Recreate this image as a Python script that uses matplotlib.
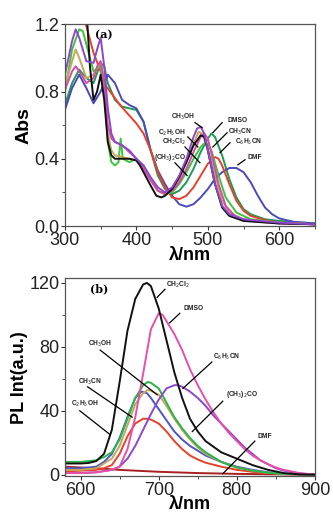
import matplotlib
matplotlib.use("Agg")
import matplotlib.pyplot as plt
from matplotlib.ticker import MultipleLocator

plt.rcParams['font.family'] = ['Liberation Sans', 'DejaVu Sans']

# ---------------- Panel (a): absorption ----------------
abs_black_x = [300, 320, 330, 335, 340, 345, 350, 355, 360, 365, 370, 380, 390, 400, 405, 410, 420, 428, 435, 440, 450, 460, 470, 480, 490, 495, 500, 510, 520, 530, 550, 600, 650]
abs_black_y = [1.5, 1.45, 1.3, 0.95, 0.75, 0.80, 0.90, 0.75, 0.50, 0.42, 0.40, 0.40, 0.40, 0.39, 0.36, 0.32, 0.24, 0.18, 0.17, 0.18, 0.22, 0.29, 0.38, 0.48, 0.54, 0.53, 0.45, 0.25, 0.11, 0.06, 0.03, 0.015, 0.01]

abs_red_x = [300, 320, 328, 340, 358, 377, 400, 410, 420, 430, 440, 450, 460, 470, 480, 490, 500, 510, 515, 520, 530, 540, 550, 560, 580, 600, 650]
abs_red_y = [1.5, 1.35, 1.22, 1.03, 0.83, 0.72, 0.61, 0.55, 0.45, 0.32, 0.23, 0.17, 0.16, 0.18, 0.23, 0.30, 0.37, 0.41, 0.40, 0.36, 0.25, 0.15, 0.09, 0.06, 0.035, 0.02, 0.01]

abs_navy_x = [300, 310, 320, 330, 340, 350, 360, 370, 380, 390, 400, 410, 420, 430, 440, 450, 460, 470, 480, 490, 500, 510, 520, 530, 540, 550, 560, 570, 580, 590, 600, 620, 650]
abs_navy_y = [0.69, 0.82, 0.90, 0.82, 0.73, 0.80, 0.90, 0.85, 0.75, 0.72, 0.70, 0.62, 0.45, 0.33, 0.25, 0.18, 0.13, 0.115, 0.13, 0.17, 0.22, 0.28, 0.32, 0.345, 0.345, 0.32, 0.26, 0.18, 0.11, 0.07, 0.045, 0.025, 0.015]

abs_dgreen_x = [300, 310, 320, 330, 340, 350, 355, 360, 370, 380, 390, 400, 410, 420, 430, 440, 450, 460, 470, 480, 490, 500, 505, 510, 520, 530, 540, 550, 560, 580, 600, 650]
abs_dgreen_y = [0.72, 0.85, 0.93, 0.88, 0.85, 0.97, 0.95, 0.85, 0.75, 0.71, 0.70, 0.69, 0.62, 0.45, 0.30, 0.22, 0.19, 0.21, 0.26, 0.34, 0.44, 0.52, 0.55, 0.53, 0.42, 0.28, 0.17, 0.10, 0.07, 0.04, 0.03, 0.015]

abs_lgreen_x = [300, 310, 320, 325, 330, 340, 350, 355, 360, 365, 370, 375, 378, 381, 390, 400, 410, 420, 430, 440, 450, 460, 470, 480, 490, 497, 505, 515, 525, 540, 560, 600, 650]
abs_lgreen_y = [0.80, 1.05, 1.17, 1.16, 1.08, 0.92, 0.95, 0.80, 0.50, 0.38, 0.36, 0.38, 0.52, 0.40, 0.38, 0.40, 0.36, 0.28, 0.21, 0.19, 0.20, 0.25, 0.32, 0.40, 0.47, 0.50, 0.45, 0.30, 0.17, 0.08, 0.04, 0.02, 0.01]

abs_olive_x = [300, 310, 315, 320, 330, 340, 350, 355, 360, 365, 370, 380, 390, 400, 410, 420, 430, 440, 450, 460, 470, 480, 487, 492, 500, 510, 520, 530, 550, 600, 650]
abs_olive_y = [0.83, 0.98, 1.05, 1.00, 0.88, 0.90, 0.98, 0.85, 0.55, 0.45, 0.42, 0.41, 0.40, 0.39, 0.35, 0.28, 0.21, 0.19, 0.21, 0.28, 0.38, 0.49, 0.56, 0.55, 0.46, 0.30, 0.15, 0.08, 0.04, 0.02, 0.01]

abs_magenta_x = [300, 310, 315, 320, 330, 340, 345, 350, 355, 360, 365, 370, 380, 390, 400, 410, 420, 430, 440, 450, 460, 470, 480, 490, 495, 500, 505, 515, 525, 540, 560, 600, 650]
abs_magenta_y = [0.81, 0.92, 0.95, 0.92, 0.85, 0.88, 0.95, 0.98, 0.85, 0.60, 0.52, 0.50, 0.48, 0.44, 0.40, 0.34, 0.27, 0.21, 0.19, 0.21, 0.26, 0.34, 0.44, 0.53, 0.55, 0.52, 0.43, 0.25, 0.12, 0.05, 0.03, 0.015, 0.01]

abs_purple_x = [300, 310, 315, 320, 330, 340, 345, 350, 355, 360, 365, 370, 380, 390, 400, 410, 420, 430, 440, 450, 460, 470, 480, 485, 490, 495, 500, 510, 520, 530, 550, 600, 650]
abs_purple_y = [0.90, 1.10, 1.17, 1.12, 0.98, 0.97, 1.05, 1.12, 0.95, 0.70, 0.55, 0.50, 0.48, 0.45, 0.40, 0.36, 0.29, 0.23, 0.20, 0.23, 0.30, 0.40, 0.53, 0.58, 0.59, 0.55, 0.45, 0.25, 0.12, 0.07, 0.04, 0.02, 0.01]

abs_series = [
    (abs_dgreen_x, abs_dgreen_y, '#1f9a55'),
    (abs_navy_x, abs_navy_y, '#4a4ab8'),
    (abs_red_x, abs_red_y, '#e8402c'),
    (abs_lgreen_x, abs_lgreen_y, '#3cc43c'),
    (abs_olive_x, abs_olive_y, '#c4a85a'),
    (abs_magenta_x, abs_magenta_y, '#d84aa8'),
    (abs_black_x, abs_black_y, '#111111'),
    (abs_purple_x, abs_purple_y, '#8c48cc'),
]

abs_labels = ['CH$_3$OH', 'DMSO', 'C$_2$H$_5$OH', 'CH$_3$CN', 'CH$_2$Cl$_2$', 'C$_6$H$_5$CN', '(CH$_3$)$_2$CO', 'DMF']
abs_label_pos = [(465, 0.65), (541, 0.63), (450, 0.555), (545, 0.56), (453, 0.50), (557, 0.50), (447, 0.41), (566, 0.41)]
abs_leaders = [((482, 0.615), (492, 0.585)), ((520, 0.615), (507, 0.555)), ((472, 0.53), (486, 0.47)),
               ((527, 0.555), (507, 0.47)), ((468, 0.47), (489, 0.376)), ((531, 0.495), (517, 0.436)),
               ((454, 0.376), (471, 0.30)), ((552, 0.394), (542, 0.364))]

# ---------------- Panel (b): photoluminescence ----------------
pl_black_x = [580, 600, 610, 620, 630, 640, 650, 660, 670, 680, 685, 690, 700, 710, 720, 730, 740, 750, 760, 780, 800, 820, 840, 860, 880, 900]
pl_black_y = [7, 7, 7.3, 8.5, 13, 28, 58, 90, 110, 119, 120, 118, 104, 84, 64, 48, 35, 27, 21, 14, 10, 6, 3, 1, 0.2, 0]

pl_magenta_x = [580, 600, 620, 640, 650, 660, 670, 680, 690, 700, 705, 710, 720, 730, 740, 750, 760, 770, 780, 790, 800, 810, 820, 830, 840, 850, 860, 870, 880, 900]
pl_magenta_y = [1, 1, 1.5, 3, 5, 16, 36, 63, 91, 101, 100, 96, 88, 78, 66, 56, 47, 39, 32, 26, 21, 16, 12, 9, 6.5, 4.5, 3, 2, 1, 0]

pl_green_x = [580, 600, 620, 630, 640, 650, 660, 670, 680, 686, 690, 700, 710, 720, 730, 740, 750, 760, 770, 780, 790, 800, 820, 840, 860, 900]
pl_green_y = [8, 8, 9, 11, 14, 22, 35, 48, 56, 58, 57.5, 54, 45, 36, 29, 23, 18, 14, 11, 8, 6, 4.5, 2.5, 1.2, 0.5, 0]

pl_olive_x = [580, 600, 620, 640, 650, 660, 670, 680, 686, 690, 700, 710, 720, 730, 740, 750, 760, 780, 800, 820, 840, 860, 900]
pl_olive_y = [3, 3, 4, 10, 18, 31, 44, 51, 53, 52.5, 50, 43, 35, 28, 22, 17, 13, 8, 4.5, 2.5, 1.2, 0.5, 0]

pl_blue_x = [580, 600, 620, 630, 640, 650, 660, 670, 678, 685, 690, 700, 710, 720, 730, 740, 750, 760, 780, 800, 820, 840, 860, 900]
pl_blue_y = [4, 4, 5, 8, 13, 23, 36, 48, 52, 51, 48, 41, 34, 27, 22, 18, 15, 12, 8, 5, 3, 1.5, 0.5, 0]

pl_red_x = [580, 600, 620, 630, 640, 650, 660, 670, 680, 685, 690, 700, 710, 720, 730, 740, 750, 760, 780, 800, 820, 840, 860, 900]
pl_red_y = [2, 2.5, 3, 4, 6, 13, 24, 32, 35, 35, 34.5, 32, 27, 21, 16, 12, 9.5, 7.5, 5, 3, 1.8, 1, 0.4, 0]

pl_purple_x = [580, 600, 620, 640, 650, 660, 670, 680, 690, 700, 710, 720, 725, 730, 740, 750, 760, 770, 780, 790, 800, 810, 820, 830, 840, 850, 860, 880, 900]
pl_purple_y = [1, 1, 1.5, 3, 5, 10, 18, 28, 38, 47, 54, 56, 56, 55, 52, 48, 43, 37, 32, 27, 22, 17, 13, 9, 6.5, 4, 2.5, 0.8, 0]

pl_dmf_x = [580, 600, 620, 650, 700, 750, 800, 850, 900]
pl_dmf_y = [5, 4.5, 4, 3, 1.8, 1, 0.5, 0.2, 0]

pl_series = [
    (pl_dmf_x, pl_dmf_y, '#a82020'),
    (pl_red_x, pl_red_y, '#e8402c'),
    (pl_blue_x, pl_blue_y, '#4a56c8'),
    (pl_olive_x, pl_olive_y, '#c4a85a'),
    (pl_green_x, pl_green_y, '#2cb44c'),
    (pl_purple_x, pl_purple_y, '#8c48cc'),
    (pl_magenta_x, pl_magenta_y, '#e650a8'),
    (pl_black_x, pl_black_y, '#111111'),
]

pl_labels = ['CH$_2$Cl$_2$', 'DMSO', 'CH$_3$OH', 'C$_6$H$_5$CN', 'CH$_3$CN', '(CH$_3$)$_2$CO', 'C$_2$H$_5$OH', 'DMF']
pl_label_pos = [(725, 119), (745, 104), (625, 82), (787, 74), (612, 58), (806, 50), (606, 44), (836, 24)]
pl_leaders = [((708, 116), (698, 111)), ((727, 101), (714, 95)), ((625, 78), (698, 50)),
              ((768, 70.5), (731, 54)), ((609, 55), (666, 36)), ((782, 46), (743, 27)),
              ((599, 40), (638, 25)), ((823, 21), (782, 0.6))]

fig = plt.figure(figsize=(3.33, 5.16), dpi=100)
ax1 = fig.add_axes([0.195, 0.562, 0.751, 0.391])
ax2 = fig.add_axes([0.195, 0.077, 0.751, 0.384])

def style(ax):
    for s in ax.spines.values():
        s.set_color('#555555')
        s.set_linewidth(0.9)
    ax.tick_params(which='both', direction='out', colors='#333333', labelcolor='#222222')
    ax.tick_params(which='major', length=3, labelsize=13, pad=1)
    ax.tick_params(which='minor', length=2)

for x, y, c in abs_series:
    ax1.plot(x, y, color=c, lw=1.4)
ax1.set_xlim(300, 650)
ax1.set_ylim(0, 1.2)
ax1.xaxis.set_major_locator(MultipleLocator(100))
ax1.xaxis.set_minor_locator(MultipleLocator(50))
ax1.yaxis.set_major_locator(MultipleLocator(0.4))
ax1.yaxis.set_minor_locator(MultipleLocator(0.2))
ax1.yaxis.set_major_formatter(matplotlib.ticker.FormatStrFormatter('%.1f'))
style(ax1)
ax1.set_ylabel('Abs', fontsize=14, fontweight='bold', labelpad=1)
ax1.set_xlabel('λ/nm', fontsize=13, fontweight='bold', labelpad=-1)
ax1.text(0.155, 0.975, '(a)', transform=ax1.transAxes, fontsize=8, fontweight='bold',
         family='DejaVu Serif', va='top', ha='center')
for lab, pos, (p0, p1) in zip(abs_labels, abs_label_pos, abs_leaders):
    ax1.text(pos[0], pos[1], lab, fontsize=4.8, fontweight='bold', ha='center', va='center', color='#222222')
    ax1.plot([p0[0], p1[0]], [p0[1], p1[1]], color='black', lw=0.9)

for x, y, c in pl_series:
    ax2.plot(x, y, color=c, lw=1.4)
ax2.set_xlim(580, 900)
ax2.set_ylim(-1, 123)
ax2.xaxis.set_major_locator(MultipleLocator(100))
ax2.xaxis.set_minor_locator(MultipleLocator(50))
ax2.yaxis.set_major_locator(MultipleLocator(40))
ax2.yaxis.set_minor_locator(MultipleLocator(20))
style(ax2)
ax2.set_ylabel('PL Int(a.u.)', fontsize=13, fontweight='bold', labelpad=1)
ax2.set_xlabel('λ/nm', fontsize=13, fontweight='bold', labelpad=-2)
ax2.text(0.135, 0.975, '(b)', transform=ax2.transAxes, fontsize=8, fontweight='bold',
         family='DejaVu Serif', va='top', ha='center')
for lab, pos, (p0, p1) in zip(pl_labels, pl_label_pos, pl_leaders):
    ax2.text(pos[0], pos[1], lab, fontsize=4.8, fontweight='bold', ha='center', va='center', color='#222222')
    ax2.plot([p0[0], p1[0]], [p0[1], p1[1]], color='black', lw=0.9)

fig.savefig('out.png', dpi=100)
